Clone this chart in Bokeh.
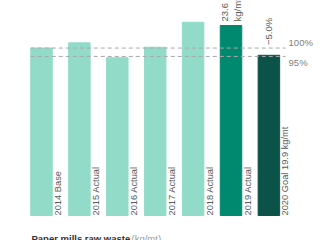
import numpy as np
from bokeh.plotting import figure
from bokeh.models import Range1d, ColumnDataSource, Label
from bokeh.core.properties import value
from bokeh.embed import file_html
from bokeh.resources import INLINE

# ---- data ----
categories = ["2014 Base", "2015 Actual", "2016 Actual", "2017 Actual",
              "2018 Actual", "2019 Actual", "2020 Goal 19.9 kg/mt"]
waste = [20.8, 21.45, 19.6, 20.9, 24.0, 23.6, 19.9]   # kg/mt
ref_labels = ["100%", "95%"]
ref_fracs = [1.0, 0.95]
value_label_2019 = "23.6\nkg/mt"
goal_change_label = "\u22125.0%"
title_main = "Paper mills raw waste"
title_unit = "(kg/mt)"

# ---- styles ----
LIGHT, MID, DARK = "#92dbc9", "#00896f", "#0b5249"
bar_colors = [LIGHT] * 5 + [MID, DARK]
FONT = "Liberation Sans"
TXT = "#5a5a5a"

x = list(range(len(categories)))
src = ColumnDataSource(dict(x=x, top=waste, color=bar_colors, cat=categories))

# pixel mapping: bar pitch ~37.9px, first bar centre at ~41px; baseline at 215px, ~8.05px/unit
pitch, x0px = 37.9, 41.0
base_px, ppu = 215.0, 8.05
W, H = 320, 240
p = figure(width=W, height=H,
           x_range=Range1d(-x0px / pitch, (W - x0px) / pitch),
           y_range=Range1d(-(H - base_px) / ppu, base_px / ppu),
           x_axis_type=None, y_axis_type=None,
           output_backend="svg", toolbar_location=None, min_border=0)
p.outline_line_color = None
p.background_fill_color = "white"
p.border_fill_color = "white"

bw = 21.5 / pitch
p.vbar(x="x", top="top", width=bw, bottom=0, color="color", source=src)

# reference dashed lines
base = waste[0]
ref_vals = [base * f for f in ref_fracs]
x_end = len(categories) - 1 + 0.44
p.segment(x0=[-bw / 2] * 2, x1=[x_end] * 2, y0=ref_vals, y1=ref_vals,
          line_color="#a8a8a8", line_width=1, line_dash="4 3")
lx = x_end + 3.0 / pitch
p.text(x=[lx], y=[ref_vals[0] + 0.05], text=[ref_labels[0]], text_align="left",
       text_baseline="bottom", text_font=value(FONT), text_font_size="9.5px",
       text_color="#808080")
p.text(x=[lx], y=[ref_vals[1] - 0.05], text=[ref_labels[1]], text_align="left",
       text_baseline="top", text_font=value(FONT), text_font_size="9.5px",
       text_color="#808080")

# category labels, rotated, to the right of each bar
p.text(x=[xi + 16.5 / pitch for xi in x], y=[0] * len(x), text=categories,
       angle=np.pi / 2, text_align="left", text_baseline="middle",
       text_font=value(FONT), text_font_size="9.3px", text_color=TXT)

# value label above 2019 bar
p.text(x=[5], y=[waste[5] + 4 / ppu], text=[value_label_2019], angle=np.pi / 2,
       text_align="left", text_baseline="middle", text_font=value(FONT),
       text_font_size="9.5px", text_color=TXT, text_line_height=1.2)
# change label above 2020 bar
p.text(x=[6], y=[base + 3 / ppu], text=[goal_change_label], angle=np.pi / 2,
       text_align="left", text_baseline="middle", text_font=value(FONT),
       text_font_size="9.5px", text_color=TXT)

# title at bottom
p.add_layout(Label(x=31, y=H - 237.5, x_units="screen", y_units="screen",
                   text=title_main, text_font=FONT, text_font_size="9.5px",
                   text_font_style="bold", text_color="#333333",
                   text_baseline="middle"))
p.add_layout(Label(x=131, y=H - 237.5, x_units="screen", y_units="screen",
                   text=title_unit, text_font=FONT, text_font_size="9.5px",
                   text_color="#999999", text_baseline="middle"))

open("out.html", "w").write(file_html(p, INLINE))
